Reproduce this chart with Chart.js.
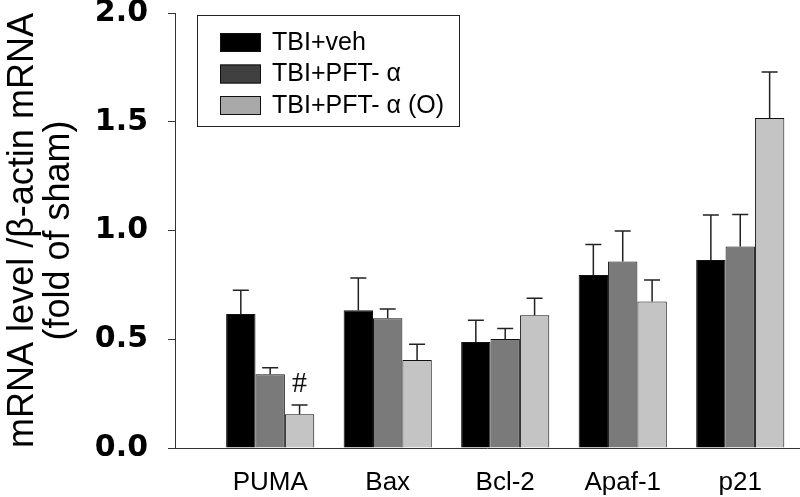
<!DOCTYPE html>
<html>
<head>
<meta charset="utf-8">
<script src="https://cdn.jsdelivr.net/npm/chart.js@4.4.0/dist/chart.umd.min.js"></script>
<style>
  body { margin: 0; background: #fff; }
  #wrap { width: 800px; height: 497px; }
</style>
</head>
<body>
<div id="wrap"><canvas id="barChart" width="800" height="497"></canvas></div>
<script>
const genes = ["PUMA", "Bax", "Bcl-2", "Apaf-1", "p21"];
const seriesNames = ["TBI+veh", "TBI+PFT- α", "TBI+PFT- α (O)"];
const vehValues = [0.616, 0.633, 0.487, 0.795, 0.864];
const vehErrors = [0.109, 0.149, 0.100, 0.141, 0.207];
const pftValues = [0.339, 0.596, 0.501, 0.857, 0.927];
const pftErrors = [0.030, 0.043, 0.048, 0.141, 0.147];
const pftOValues = [0.155, 0.405, 0.610, 0.673, 1.517];
const pftOErrors = [0.043, 0.072, 0.078, 0.099, 0.212];
const yTicks = [0, 0.5, 1.0, 1.5, 2.0];
// significance marks: gene index, series index, symbol
const marks = [[0, 2, "#"]];

const barColors = ["#000000", "#7a7a7a", "#c4c4c4"];
const legendColors = ["#000000", "#404040", "#a9a9a9"];

function toPoints(values) {
  return values.map((v, i) => ({ x: i, y: v }));
}

const allValues = [vehValues, pftValues, pftOValues];
const allErrors = [vehErrors, pftErrors, pftOErrors];

let datasets = [];
for (let s = 0; s < seriesNames.length; s++) {
  datasets.push({
    label: seriesNames[s],
    data: toPoints(allValues[s]),
    errors: allErrors[s],
    backgroundColor: barColors[s],
    borderColor: "#111",
    borderWidth: 1,
    categoryPercentage: 0.75,
    barPercentage: 1.0,
  });
}

const errorBars = {
  id: "errorBars",
  afterDatasetsDraw(chart) {
    let ctx = chart.ctx;
    let yScale = chart.scales.y;
    ctx.save();
    ctx.strokeStyle = "#222";
    ctx.lineWidth = 1.5;
    chart.data.datasets.forEach((ds, di) => {
      let meta = chart.getDatasetMeta(di);
      meta.data.forEach((bar, i) => {
        let top = yScale.getPixelForValue(ds.data[i].y + ds.errors[i]);
        ctx.beginPath();
        ctx.moveTo(bar.x, bar.y);
        ctx.lineTo(bar.x, top);
        ctx.moveTo(bar.x - 8, top);
        ctx.lineTo(bar.x + 8, top);
        ctx.stroke();
      });
    });
    ctx.fillStyle = "#111";
    ctx.font = "30px 'Liberation Serif'";
    ctx.textAlign = "center";
    ctx.textBaseline = "bottom";
    marks.forEach((m) => {
      let ds = chart.data.datasets[m[1]];
      let bar = chart.getDatasetMeta(m[1]).data[m[0]];
      let top = yScale.getPixelForValue(ds.data[m[0]].y + ds.errors[m[0]]);
      ctx.fillText(m[2], bar.x, top - 6);
    });
    ctx.restore();
  },
};

const boxLegend = {
  id: "boxLegend",
  afterDraw(chart) {
    let ctx = chart.ctx;
    let area = chart.chartArea;
    let left = area.left + 22;
    let top = area.top + 2;
    ctx.save();
    ctx.strokeStyle = "#222";
    ctx.lineWidth = 1;
    ctx.strokeRect(left + 0.5, top + 0.5, 262, 111);
    ctx.font = "25px 'Liberation Sans'";
    ctx.textBaseline = "middle";
    ctx.textAlign = "left";
    chart.data.datasets.forEach((ds, i) => {
      let y = top + 18 + i * 31.5;
      ctx.fillStyle = legendColors[i];
      ctx.fillRect(left + 23, y, 41, 19);
      ctx.strokeStyle = "#111";
      ctx.strokeRect(left + 23.5, y + 0.5, 40, 18);
      ctx.fillStyle = "#000";
      ctx.fillText(ds.label, left + 75, y + 10);
    });
    ctx.restore();
  },
};

let ctx = document.getElementById("barChart").getContext("2d");
const barChart = new Chart(ctx, {
  type: "bar",
  data: { datasets: datasets },
  options: {
    responsive: false,
    devicePixelRatio: 1,
    animation: false,
    layout: { padding: { top: 13, left: 0, right: 1, bottom: 0 } },
    plugins: { legend: { display: false }, tooltip: { enabled: false } },
    scales: {
      x: {
        type: "linear",
        offset: false,
        min: -0.81,
        max: 4.5,
        grid: { display: false, drawTicks: false },
        border: { display: true, color: "#333", width: 1 },
        afterBuildTicks(scale) {
          scale.ticks = genes.map((g, i) => ({ value: i }));
        },
        afterFit(scale) {
          scale.height = 49;
        },
        ticks: {
          padding: 19,
          color: "#000",
          font: { family: "'Liberation Sans'", size: 26 },
          maxRotation: 0,
          callback: (v) => genes[v],
        },
      },
      y: {
        min: 0,
        max: 2,
        afterBuildTicks(scale) {
          scale.ticks = yTicks.map((v) => ({ value: v }));
        },
        afterFit(scale) {
          scale.width = 175;
          scale.paddingTop = 0;
        },
        grid: {
          drawOnChartArea: false,
          drawTicks: true,
          tickLength: 7,
          color: "#333",
        },
        border: { display: true, color: "#333", width: 1 },
        ticks: {
          padding: 20,
          color: "#000",
          font: { family: "'DejaVu Sans'", size: 30, weight: "bold" },
          callback: (v) => v.toFixed(1),
        },
        title: {
          display: true,
          text: ["mRNA level /β-actin mRNA", "(fold of sham)"],
          color: "#000",
          font: { family: "'Liberation Sans'", size: 36, lineHeight: 1.0 },
          padding: { top: 5, bottom: 0 },
        },
      },
    },
  },
  plugins: [errorBars, boxLegend],
});
</script>
</body>
</html>
